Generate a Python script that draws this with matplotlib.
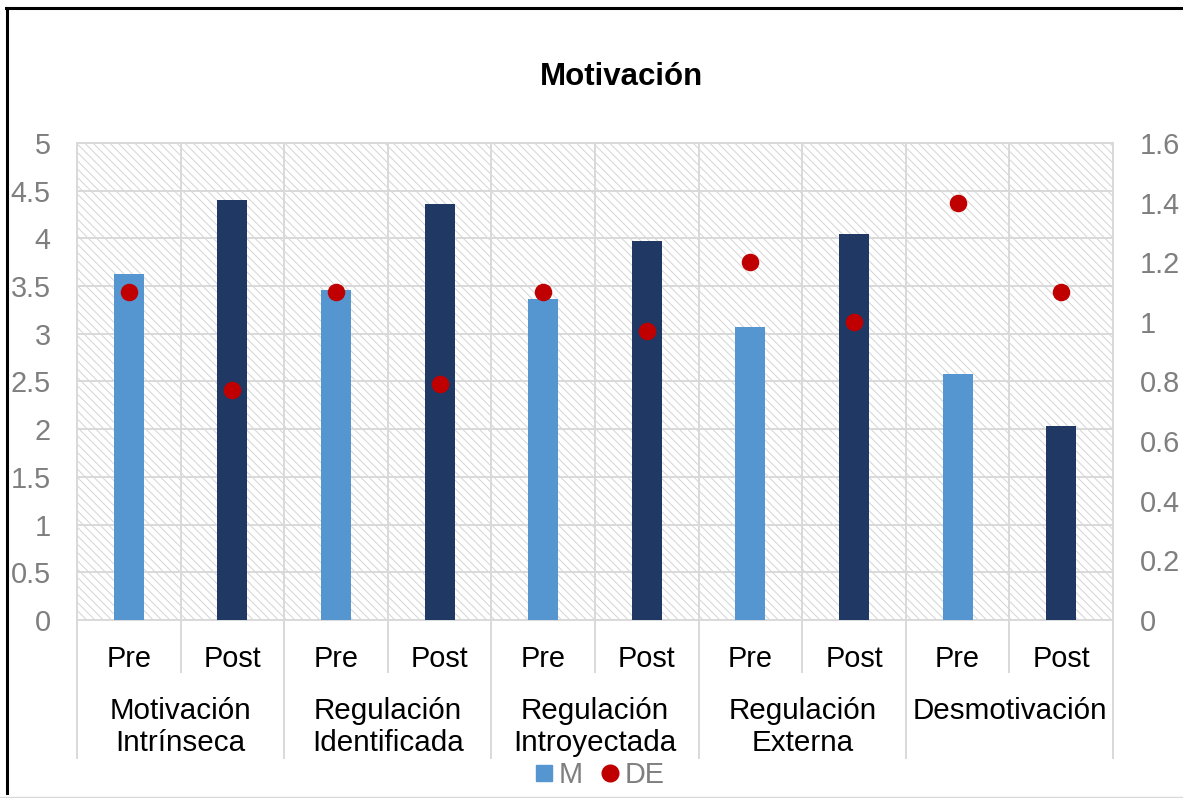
import matplotlib.pyplot as plt
from matplotlib.lines import Line2D
from matplotlib.patches import Rectangle
from matplotlib.ticker import FormatStrFormatter, MultipleLocator

plt.rcParams['font.family'] = ['Liberation Sans', 'DejaVu Sans']
plt.rcParams['hatch.linewidth'] = 0.7

# datos
grupos = ["Motivación\nIntrínseca", "Regulación\nIdentificada", "Regulación\nIntroyectada",
          "Regulación\nExterna", "Desmotivación"]
momentos = ["Pre", "Post"]
m_pre = [3.63, 3.46, 3.36, 3.07, 2.58]
m_post = [4.40, 4.36, 3.97, 4.05, 2.03]
de_pre = [1.10, 1.10, 1.10, 1.20, 1.40]
de_post = [0.77, 0.79, 0.97, 1.00, 1.10]

azul = "#5596d0"
azul_osc = "#203864"
rojo = "#c00000"
gris = "#d9d9d9"
gris_txt = "#7f7f7f"

# orden Pre, Post por grupo
etiquetas = []
valores_m = []
valores_de = []
colores = []
for i in range(len(grupos)):
    etiquetas += momentos
    valores_m += [m_pre[i], m_post[i]]
    valores_de += [de_pre[i], de_post[i]]
    colores += [azul, azul_osc]
x = list(range(len(etiquetas)))

fig = plt.figure(figsize=(11.83, 7.98), dpi=100)
ax = fig.add_axes([77/1183, 1-620/798, (1113-77)/1183, (620-143)/798])

# fondo rayado tipo excel
ax.add_patch(Rectangle((0, 0), 1, 1, transform=ax.transAxes, facecolor='white',
                       edgecolor='#d4d4d4', hatch='\\\\\\\\', lw=0, zorder=0))

ax.bar(x, valores_m, width=0.29, color=colores, zorder=3)
ax.set_ylim(0, 5)
ax.set_xlim(-0.5, len(x) - 0.5)
ax.yaxis.set_major_locator(MultipleLocator(0.5))
ax.yaxis.set_major_formatter(FormatStrFormatter('%g'))
ax.set_xticks(x)
ax.set_xticklabels(etiquetas)
ax.set_xticks([v - 0.5 for v in range(len(x) + 1)], minor=True)
ax.tick_params(axis='x', which='both', length=0, labelsize=20.8, pad=18)
ax.tick_params(axis='y', length=0, labelsize=20.8, labelcolor=gris_txt, pad=19)
ax.grid(axis='y', which='major', color=gris, lw=1.4, zorder=1)
ax.grid(axis='x', which='minor', color=gris, lw=1.4, zorder=1)
for s in ax.spines.values():
    s.set_color(gris)
    s.set_linewidth(1.4)

# eje derecho para DE
ax2 = ax.twinx()
ax2.scatter(x, valores_de, s=135, color=rojo, zorder=4)
ax2.set_ylim(0, 1.6)
ax2.yaxis.set_major_locator(MultipleLocator(0.2))
ax2.yaxis.set_major_formatter(FormatStrFormatter('%g'))
ax2.tick_params(axis='y', length=0, labelsize=20.8, labelcolor=gris_txt, pad=19)
for s in ax2.spines.values():
    s.set_visible(False)

# separadores del eje x jerarquico
tr = ax.get_xaxis_transform()
for k in range(len(x) + 1):
    if k % 2 == 0:
        ax.plot([k - 0.5, k - 0.5], [0, -0.289], color=gris, lw=1.4, transform=tr, clip_on=False)
    else:
        ax.plot([k - 0.5, k - 0.5], [0, -0.109], color=gris, lw=1.4, transform=tr, clip_on=False)
for i, g in enumerate(grupos):
    ax.text(2*i + 0.5, -0.161, g, transform=tr, ha='center', va='top', fontsize=21.3,
            linespacing=1.18)

fig.text(622/1183, 1-77/798, "Motivación", ha='center', va='center', fontsize=22.5,
         fontweight='bold')

# leyenda
h1 = Line2D([], [], marker='s', ls='', color=azul, markersize=11)
h2 = Line2D([], [], marker='o', ls='', color=rojo, markersize=12)
leg = fig.legend([h1, h2], ["M", "DE"], loc='center', bbox_to_anchor=(599/1183, 1-775/798),
                 ncol=2, frameon=False, fontsize=20.8, handlelength=0.7, handletextpad=0.15,
                 columnspacing=0.6)
for t in leg.get_texts():
    t.set_color(gris_txt)

# marco
fig.add_artist(Line2D([6/1183, 1], [1-8/798, 1-8/798], color='black', lw=2.2))
fig.add_artist(Line2D([7/1183, 7/1183], [1-8/798, 1-793/798], color='black', lw=2.2))
fig.add_artist(Line2D([0, 1], [1-797/798, 1-797/798], color=gris, lw=1))

plt.savefig("out.png", dpi=100)
